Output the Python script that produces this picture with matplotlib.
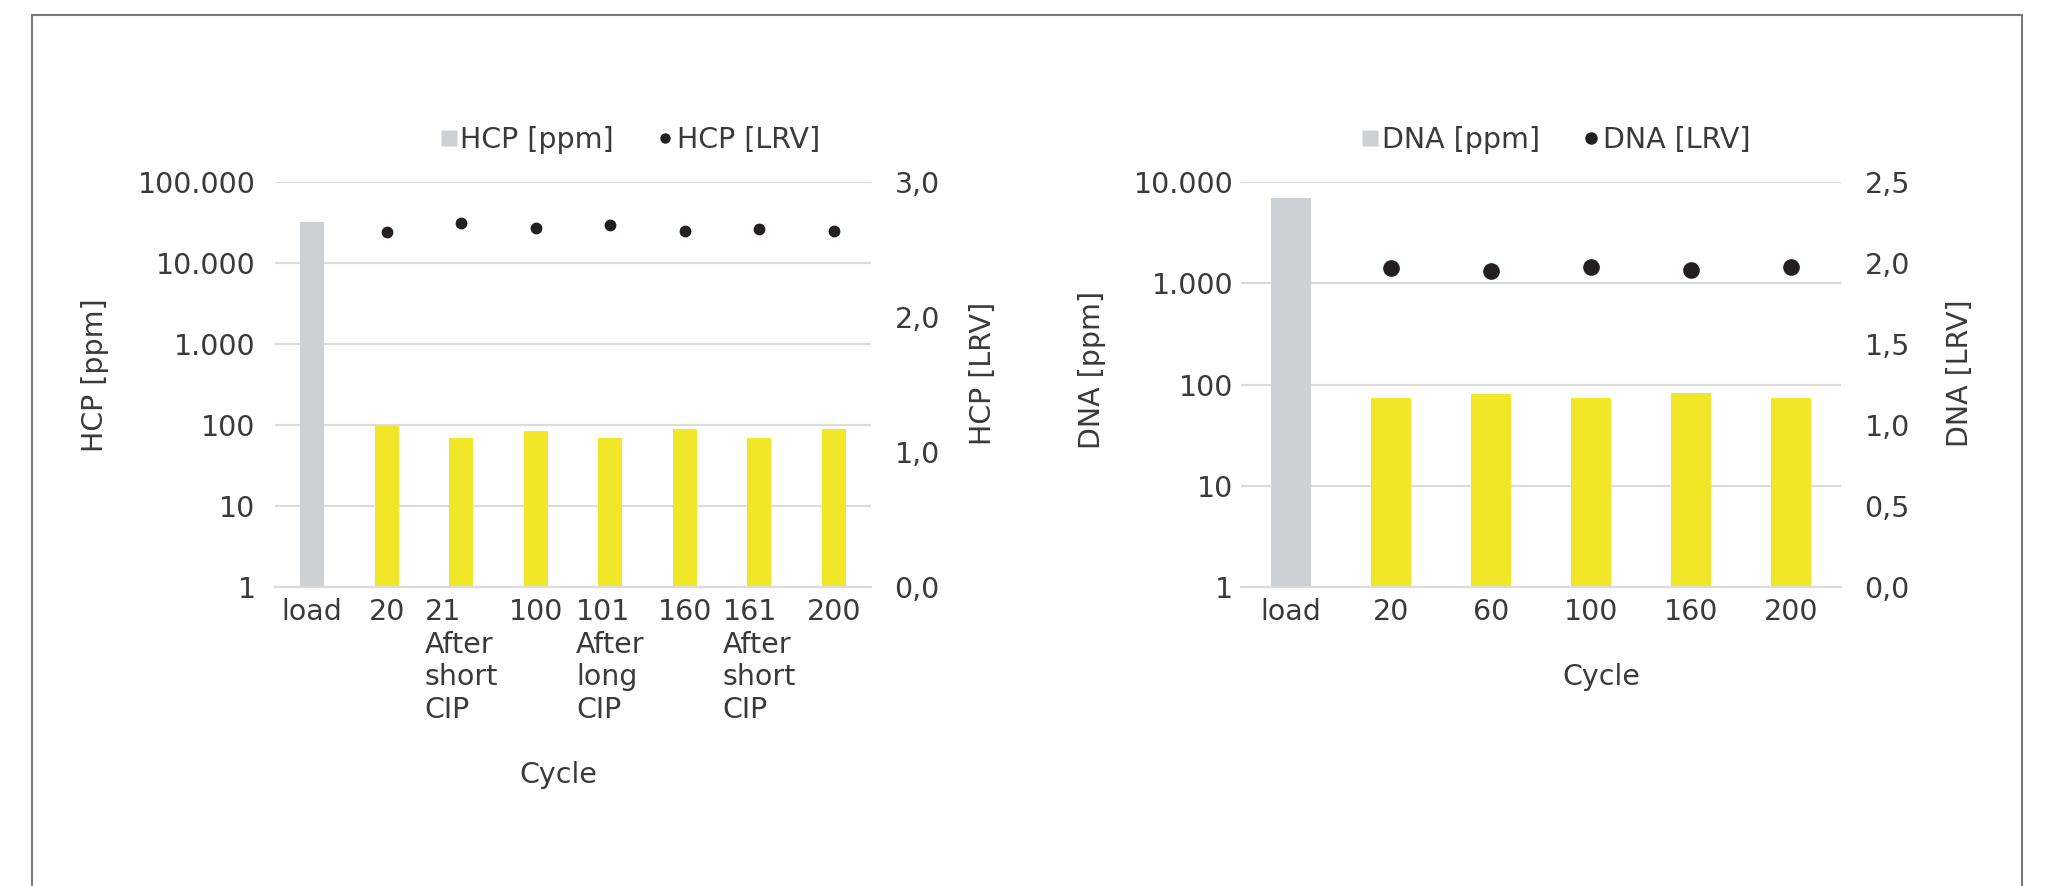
import numpy as np
import matplotlib
matplotlib.use("Agg")
import matplotlib.pyplot as plt
from matplotlib.ticker import FixedLocator, FuncFormatter, NullLocator
from matplotlib.lines import Line2D
from matplotlib.patches import Rectangle

# ---- data -----------------------------------------------------------------
hcp_categories = ["load", "20", "21\nAfter\nshort\nCIP", "100",
                  "101\nAfter\nlong\nCIP", "160", "161\nAfter\nshort\nCIP", "200"]
hcp_ppm = [32000, 98, 69, 84, 69, 89, 69, 89]
hcp_lrv = [np.nan, 2.63, 2.70, 2.66, 2.68, 2.64, 2.65, 2.64]

dna_categories = ["load", "20", "60", "100", "160", "200"]
dna_ppm = [7000, 73.5, 80.5, 73.5, 82.5, 73.5]
dna_lrv = [np.nan, 1.97, 1.95, 1.975, 1.96, 1.975]

hcp_ppm_ticks = [1, 10, 100, 1000, 10000, 100000]
hcp_lrv_ticks = [0.0, 1.0, 2.0, 3.0]
dna_ppm_ticks = [1, 10, 100, 1000, 10000]
dna_lrv_ticks = [0.0, 0.5, 1.0, 1.5, 2.0, 2.5]

# ---- style ----------------------------------------------------------------
W, H = 2050, 886
GREY_BAR = "#cdd1d4"
YELLOW = "#f2e628"
DOT = "#231f20"
GRID = "#dcdcdc"
TEXT = "#3a3a3a"
FS = 20.5

plt.rcParams["font.family"] = ["DejaVu Sans"]
plt.rcParams["text.color"] = TEXT

fig = plt.figure(figsize=(W / 100, H / 100), dpi=100)


def px_axes(x0, y0, x1, y1):
    return fig.add_axes([x0 / W, 1 - y1 / H, (x1 - x0) / W, (y1 - y0) / H])


def thousands(v, _):
    return f"{int(round(v)):,}".replace(",", ".")


def comma1(v, _):
    return f"{v:.1f}".replace(".", ",")


def panel(box, cats, ppm, lrv, ppm_ticks, lrv_ticks, bar_w, dot_ms,
          lpad, rpad, names, ylabel_pos, rlabel_pos, xlabel_pos, legend_pos,
          legend_ms):
    ax = px_axes(*box)
    x = np.arange(len(cats))
    colors = [GREY_BAR] + [YELLOW] * (len(cats) - 1)
    ax.bar(x, ppm, width=bar_w, color=colors, zorder=2)
    ax.set_yscale("log")
    ax.set_ylim(ppm_ticks[0], ppm_ticks[-1])
    ax.set_xlim(-0.5, len(cats) - 0.5)
    ax.yaxis.set_major_locator(FixedLocator(ppm_ticks))
    ax.yaxis.set_minor_locator(NullLocator())
    ax.yaxis.set_major_formatter(FuncFormatter(thousands))
    ax.set_xticks(x)
    ax.set_xticklabels(cats, fontsize=FS, color=TEXT, linespacing=1.22,
                       multialignment="left", va="top")
    ax.tick_params(axis="x", length=0, pad=8)
    ax.tick_params(axis="y", length=0, pad=lpad, labelsize=FS, labelcolor=TEXT)
    ax.yaxis.grid(True, color=GRID, lw=1.6)
    ax.set_axisbelow(True)
    for s in ("top", "left", "right"):
        ax.spines[s].set_visible(False)
    ax.spines["bottom"].set_color(GRID)
    ax.spines["bottom"].set_linewidth(1.6)

    ax2 = ax.twinx()
    ax2.plot(x, lrv, "o", color=DOT, ms=dot_ms, mec="none", zorder=3)
    ax2.set_ylim(lrv_ticks[0], lrv_ticks[-1])
    ax2.yaxis.set_major_locator(FixedLocator(lrv_ticks))
    ax2.yaxis.set_major_formatter(FuncFormatter(comma1))
    ax2.tick_params(axis="y", length=0, pad=rpad, labelsize=FS, labelcolor=TEXT)
    for s in ax2.spines.values():
        s.set_visible(False)

    fig.text(ylabel_pos[0] / W, 1 - ylabel_pos[1] / H, names[0], rotation=90,
             ha="center", va="center", fontsize=FS, color=TEXT)
    fig.text(rlabel_pos[0] / W, 1 - rlabel_pos[1] / H, names[1], rotation=90,
             ha="center", va="center", fontsize=FS, color=TEXT)
    fig.text(xlabel_pos[0] / W, 1 - xlabel_pos[1] / H, "Cycle",
             ha="center", va="center", fontsize=FS, color=TEXT)

    handles = [
        Line2D([], [], ls="none", marker="s", ms=legend_ms[0], color=GREY_BAR,
               mec="none"),
        Line2D([], [], ls="none", marker="o", ms=legend_ms[1], color=DOT,
               mec="none"),
    ]
    fig.legend(handles, names, loc="center", ncol=2, frameon=False,
               bbox_to_anchor=(legend_pos[0] / W, 1 - legend_pos[1] / H),
               fontsize=FS, handlelength=0.6, handletextpad=0.1,
               columnspacing=1.5, labelcolor=TEXT)
    return ax, ax2


panel((275, 182.3, 871, 586.7), hcp_categories, hcp_ppm, hcp_lrv,
      hcp_ppm_ticks, hcp_lrv_ticks, 0.32, 8.5, 14, 17,
      ("HCP [ppm]", "HCP [LRV]"), (95, 375), (983, 373), (558, 775),
      (630, 140), (12, 7.5))

panel((1241, 182.3, 1841, 586.7), dna_categories, dna_ppm, dna_lrv,
      dna_ppm_ticks, dna_lrv_ticks, 0.40, 12, 5.5, 17,
      ("DNA [ppm]", "DNA [LRV]"), (1092, 370), (1960, 373), (1601, 677),
      (1556, 140), (12, 9))

# outer frame around both charts
fig.patches.append(Rectangle((32 / W, -0.1), (2022 - 32) / W, 1.1 - 15 / H,
                             transform=fig.transFigure, fill=False,
                             edgecolor="#7a7a7a", lw=1.5, zorder=0))

fig.savefig("out.png", dpi=100, facecolor="white")
